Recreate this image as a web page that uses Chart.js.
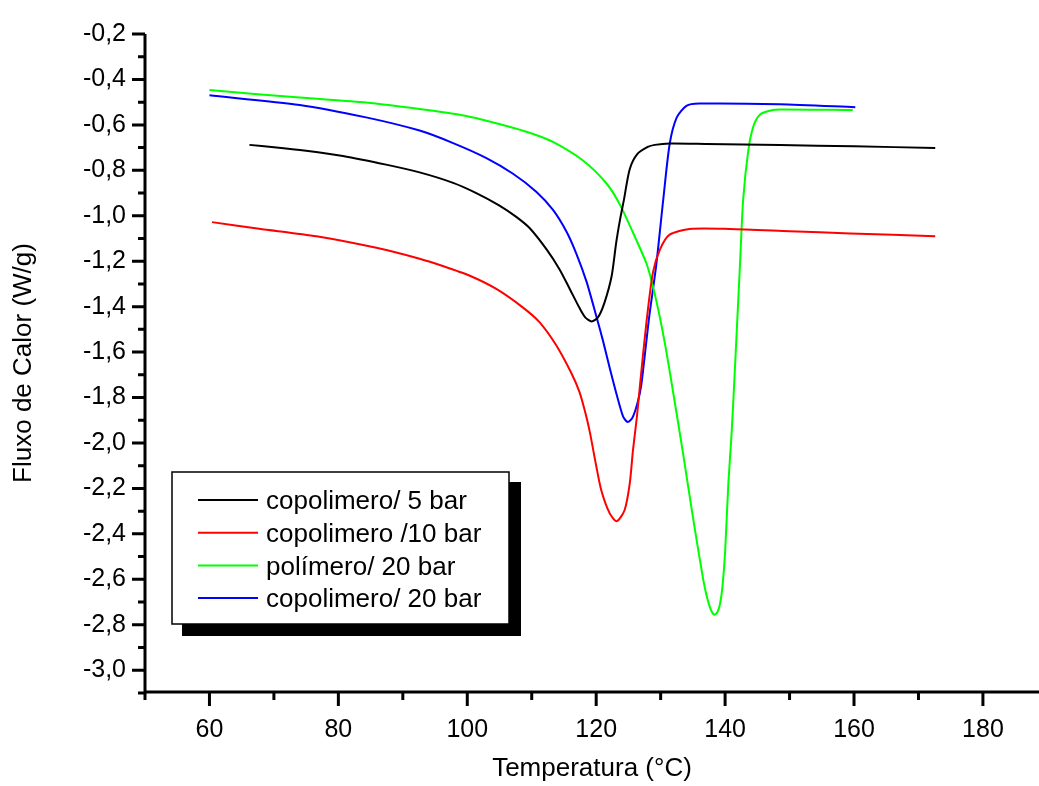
<!DOCTYPE html>
<html>
<head>
<meta charset="utf-8">
<title>Fluxo de Calor x Temperatura</title>
<script src="https://cdn.jsdelivr.net/npm/chart.js@4.4.1/dist/chart.umd.min.js"></script>
<style>
    html, body { margin: 0; padding: 0; background: #fff; overflow: hidden; }
    canvas { display: block; }
</style>
</head>
<body>
<canvas id="dscChart" width="1039" height="786"></canvas>
<script>
// DSC curves: temperature (°C) and heat flow (W/g)
const tempCop5 = [66.2, 70, 75, 80.7, 87.4, 92.6, 97.8, 101.4, 105.0, 107.6, 109.7, 112.3, 114.3, 115.9, 117.4, 118.3, 119.3, 120.3, 121.3, 122.4, 123.1, 123.7, 124.3, 125.2, 126.4, 128, 129.1, 131.4, 137.1, 148.5, 160, 172.6];
const fluxCop5 = [-0.688, -0.698, -0.714, -0.737, -0.775, -0.809, -0.855, -0.900, -0.955, -1.005, -1.055, -1.148, -1.235, -1.322, -1.405, -1.447, -1.465, -1.446, -1.381, -1.265, -1.119, -1.017, -0.930, -0.795, -0.728, -0.697, -0.688, -0.682, -0.684, -0.689, -0.694, -0.702];

const tempCop10 = [60.4, 67.7, 76.6, 85.9, 92.6, 96.2, 100.4, 104.5, 108.6, 111.2, 113.8, 116.1, 117.4, 118.3, 119.0, 120.0, 120.8, 122.1, 123.2, 124.4, 125.2, 125.7, 126.3, 126.8, 127.8, 128.8, 129.9, 131.4, 134.5, 140.7, 150, 159.4, 172.6];
const fluxCop10 = [-1.028, -1.057, -1.090, -1.141, -1.189, -1.221, -1.264, -1.322, -1.403, -1.468, -1.570, -1.690, -1.775, -1.865, -1.950, -2.100, -2.209, -2.310, -2.344, -2.296, -2.180, -2.034, -1.889, -1.744, -1.468, -1.250, -1.148, -1.083, -1.058, -1.058, -1.068, -1.078, -1.090];

const tempPol20 = [60.0, 74.0, 84.3, 89.5, 94.7, 100, 106.1, 110, 113.3, 117.9, 121.6, 123.7, 126.2, 127.8, 128.8, 129.9, 130.9, 131.9, 133.5, 135.0, 136.6, 137.2, 137.8, 138.3, 138.8, 139.2, 139.6, 140.0, 140.5, 141.0, 141.4, 142.3, 142.8, 143.6, 144.4, 145.4, 146.9, 148.5, 159.8];
const fluxPol20 = [-0.447, -0.480, -0.502, -0.519, -0.538, -0.562, -0.605, -0.638, -0.675, -0.756, -0.858, -0.952, -1.105, -1.210, -1.310, -1.450, -1.600, -1.770, -2.050, -2.325, -2.600, -2.680, -2.735, -2.756, -2.745, -2.710, -2.630, -2.480, -2.180, -1.962, -1.744, -1.221, -0.930, -0.712, -0.605, -0.555, -0.538, -0.532, -0.535];

const tempCop20 = [60.0, 74.0, 84.3, 92.6, 97.8, 102.9, 107.1, 110.7, 113.3, 115.4, 116.9, 118.5, 120.0, 121.1, 122.1, 123.3, 124.2, 124.9, 125.6, 126.4, 127.0, 128.2, 129.3, 130.4, 131.4, 132.5, 134.0, 136.0, 148.5, 160.2];
const fluxCop20 = [-0.470, -0.512, -0.567, -0.625, -0.680, -0.745, -0.815, -0.894, -0.974, -1.070, -1.165, -1.290, -1.440, -1.555, -1.670, -1.800, -1.885, -1.908, -1.890, -1.825, -1.744, -1.450, -1.221, -0.930, -0.684, -0.567, -0.516, -0.506, -0.509, -0.522];

const seriesLabels = ['copolimero/ 5 bar', 'copolimero /10 bar', 'polímero/ 20 bar', 'copolimero/ 20 bar'];
const seriesColors = ['#000000', '#ff0000', '#00ff00', '#0000ff'];

// axis ticks
const xMajorTicks = [60, 80, 100, 120, 140, 160, 180];
const xMinorTicks = [50, 70, 90, 110, 130, 150, 170];
const yMajorTicks = [-0.2, -0.4, -0.6, -0.8, -1.0, -1.2, -1.4, -1.6, -1.8, -2.0, -2.2, -2.4, -2.6, -2.8, -3.0];
const yMinorTicks = [-0.3, -0.5, -0.7, -0.9, -1.1, -1.3, -1.5, -1.7, -1.9, -2.1, -2.3, -2.5, -2.7, -2.9, -3.1];

const FONT = '"Liberation Sans", Arial, sans-serif';

function toPoints(xs, ys) {
    return xs.map((x, i) => ({ x: x, y: ys[i] }));
}

function fmtComma(v) {
    return v.toFixed(1).replace('.', ',');
}

// axis lines, major/minor tick marks and the boxed legend with shadow
const framePlugin = {
    id: 'frame',
    afterDraw(chart) {
        const ctx = chart.ctx;
        const area = chart.chartArea;
        const xs = chart.scales.x;
        const ys = chart.scales.y;
        ctx.save();
        ctx.strokeStyle = '#000';
        ctx.lineWidth = 3;
        ctx.lineCap = 'butt';

        ctx.beginPath();
        ctx.moveTo(area.left, area.top);
        ctx.lineTo(area.left, area.bottom + 1.5);
        ctx.moveTo(area.left - 1.5, area.bottom);
        ctx.lineTo(area.right, area.bottom);
        ctx.stroke();

        ctx.beginPath();
        xMajorTicks.forEach(v => {
            const px = xs.getPixelForValue(v);
            ctx.moveTo(px, area.bottom);
            ctx.lineTo(px, area.bottom + 14);
        });
        xMinorTicks.forEach(v => {
            const px = xs.getPixelForValue(v);
            ctx.moveTo(px, area.bottom);
            ctx.lineTo(px, area.bottom + 8);
        });
        yMajorTicks.forEach(v => {
            const py = ys.getPixelForValue(v);
            ctx.moveTo(area.left, py);
            ctx.lineTo(area.left - 13, py);
        });
        yMinorTicks.forEach(v => {
            const py = ys.getPixelForValue(v);
            ctx.moveTo(area.left, py);
            ctx.lineTo(area.left - 7, py);
        });
        ctx.stroke();

        // legend
        const bx = 172, by = 472, bw = 337, bh = 152;
        ctx.fillStyle = '#000';
        ctx.fillRect(bx + 10, by + 10, bw + 2, bh + 2);
        ctx.fillStyle = '#fff';
        ctx.fillRect(bx, by, bw, bh);
        ctx.lineWidth = 1.5;
        ctx.strokeRect(bx, by, bw, bh);

        ctx.font = '26px ' + FONT;
        ctx.textBaseline = 'middle';
        ctx.textAlign = 'left';
        chart.data.datasets.forEach((ds, i) => {
            const rowY = by + 28 + i * 32.7;
            ctx.strokeStyle = ds.borderColor;
            ctx.lineWidth = 2;
            ctx.beginPath();
            ctx.moveTo(bx + 26, rowY);
            ctx.lineTo(bx + 86, rowY);
            ctx.stroke();
            ctx.fillStyle = '#000';
            ctx.fillText(ds.label, bx + 94, rowY + 2);
        });
        ctx.restore();
    }
};

function initChart() {
    Chart.defaults.color = '#000';
    Chart.defaults.font.family = FONT;

    const ctx = document.getElementById('dscChart').getContext('2d');

    const curves = [
        toPoints(tempCop5, fluxCop5),
        toPoints(tempCop10, fluxCop10),
        toPoints(tempPol20, fluxPol20),
        toPoints(tempCop20, fluxCop20)
    ];

    new Chart(ctx, {
        type: 'line',
        data: {
            datasets: curves.map((pts, i) => ({
                label: seriesLabels[i],
                data: pts,
                borderColor: seriesColors[i],
                borderWidth: 2,
                pointRadius: 0,
                fill: false,
                tension: 0.25
            }))
        },
        options: {
            responsive: false,
            animation: false,
            devicePixelRatio: 1,
            layout: { padding: { top: 25, right: 0, left: 0, bottom: 0 } },
            scales: {
                x: {
                    type: 'linear',
                    min: 50,
                    max: 188.7,
                    afterFit: scale => { scale.height = 94; },
                    afterBuildTicks: scale => {
                        scale.ticks = xMajorTicks.map(v => ({ value: v }));
                    },
                    grid: { display: false, drawTicks: false },
                    border: { display: false },
                    ticks: {
                        padding: 23,
                        maxRotation: 0,
                        autoSkip: false,
                        font: { size: 25 },
                        callback: v => String(v)
                    },
                    title: {
                        display: true,
                        text: 'Temperatura (°C)',
                        font: { size: 26 },
                        padding: { top: 0, bottom: 2 }
                    }
                },
                y: {
                    min: -3.096,
                    max: -0.2,
                    afterFit: scale => { scale.width = 145; },
                    afterBuildTicks: scale => {
                        scale.ticks = yMajorTicks.map(v => ({ value: v }));
                    },
                    grid: { display: false, drawTicks: false },
                    border: { display: false },
                    ticks: {
                        padding: 19,
                        autoSkip: false,
                        font: { size: 25 },
                        callback: v => fmtComma(v)
                    },
                    title: {
                        display: true,
                        text: 'Fluxo de Calor (W/g)',
                        font: { size: 26 },
                        padding: { top: 8, bottom: 0 }
                    }
                }
            },
            plugins: {
                legend: { display: false },
                tooltip: { enabled: false }
            }
        },
        plugins: [framePlugin]
    });
}

initChart();
</script>
</body>
</html>
